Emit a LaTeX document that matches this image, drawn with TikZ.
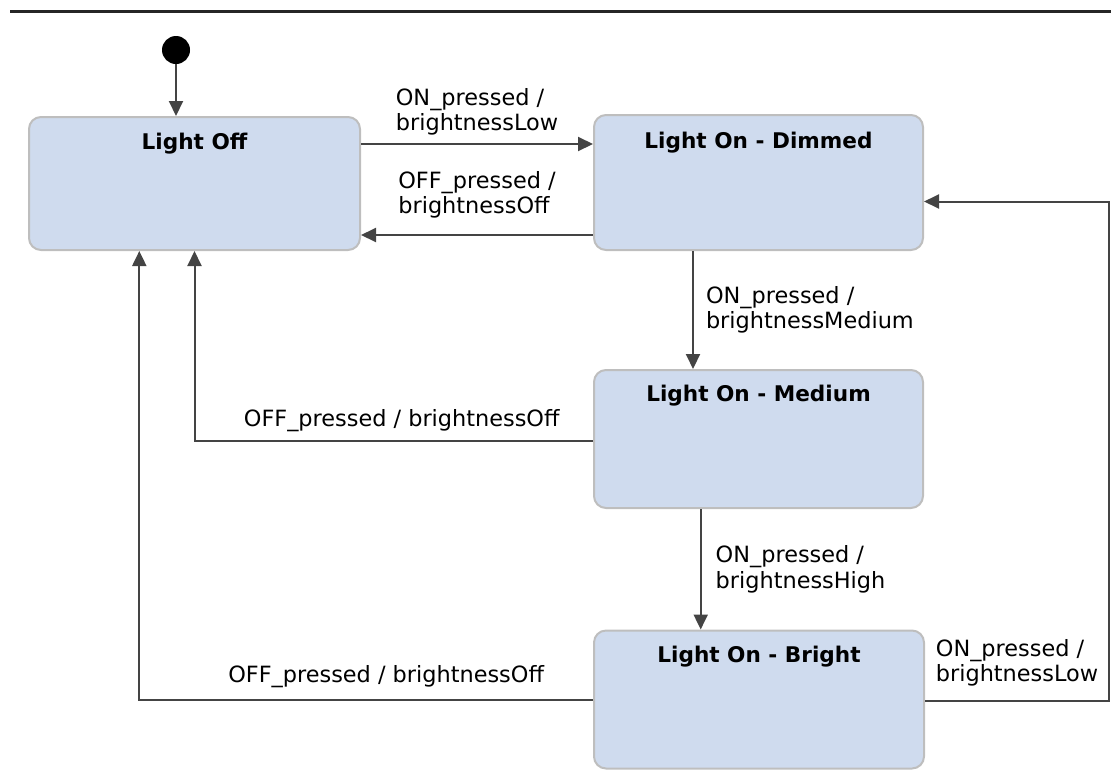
\documentclass[tikz,border=0pt]{standalone}
\usepackage{fontspec}
\setmainfont{DejaVu Sans}
\usepackage{tikz}
\usetikzlibrary{positioning,arrows.meta}

\definecolor{statefill}{RGB}{207,219,238}
\definecolor{stateline}{RGB}{190,190,190}
\definecolor{wire}{RGB}{68,68,68}

\tikzset{
  state/.style={draw=stateline, line width=1pt, fill=statefill, rounded corners=6pt,
    minimum width=164pt, minimum height=67pt, inner sep=0pt},
  title/.style={font=\fontsize{10.8}{12}\selectfont\bfseries, inner sep=0pt},
  conn/.style={draw=wire, line width=1pt, -{Triangle[length=7.5pt,width=7pt]}},
  lbl/.style={font=\fontsize{11.2}{12.6}\selectfont, align=left, inner sep=1pt}
}

\begin{document}
\begin{tikzpicture}[x=0.5pt, y=-0.5pt]
    \useasboundingbox (0,0) rectangle (1111,782);
    \draw[line width=1.5pt, color=black!85] (10,11) -- (1111,11);

    % states
    \node[circle, fill=black, minimum size=14pt, inner sep=0pt] (init) at (176,50) {};
    \node[state, minimum width=165.5pt, minimum height=66.5pt] (off) at (194.5,183.5) {};
    \node[state, minimum width=164.5pt, minimum height=67.5pt] (dimmed) at (758.5,182.5) {};
    \node[state, minimum width=164.5pt, minimum height=69pt] (medium) at (758.5,439) {};
    \node[state, minimum width=165pt, minimum height=69pt] (bright) at (759,699.5) {};

    \node[title, below=8.5pt of off.north] {Light Off};
    \node[title, below=9pt of dimmed.north] {Light On - Dimmed};
    \node[title, below=8pt of medium.north] {Light On - Medium};
    \node[title, below=8pt of bright.north] {Light On - Bright};

    % transitions
    \draw[conn] (init) -- (init |- off.north);

    \draw[conn] ([yshift=19.75pt]off.east) coordinate (a1) -- (a1 -| dimmed.west)
        node[lbl, midway, above=3pt] {ON\_pressed /\\brightnessLow};

    \draw[conn] ([yshift=-26.25pt]dimmed.west) coordinate (a2) -- (a2 -| off.east)
        node[lbl, midway, above=7pt] {OFF\_pressed /\\brightnessOff};

    \draw[conn] ([xshift=-32.75pt]dimmed.south) coordinate (a3) -- (a3 |- medium.north)
        node[lbl, midway, right=5pt] {ON\_pressed /\\brightnessMedium};

    \draw[conn] ([xshift=-28.9pt]medium.south) coordinate (a4) -- (a4 |- bright.north)
        node[lbl, midway, right=6pt] {ON\_pressed /\\brightnessHigh};

    \draw[conn] ([yshift=-1pt]medium.west) -| (off.south)
        node[lbl, pos=0.24, above=3pt] {OFF\_pressed / brightnessOff};

    \draw[conn] (bright.west) -| ([xshift=-27.6pt]off.south)
        node[lbl, pos=0.228, above=4.5pt] {OFF\_pressed / brightnessOff};

    \draw[conn] ([yshift=-0.75pt]bright.east) -- ++(184,0)
        node[lbl, midway, above=6pt] {ON\_pressed /\\brightnessLow}
        |- ([yshift=-9.5pt]dimmed.east);
\end{tikzpicture}
\end{document}
